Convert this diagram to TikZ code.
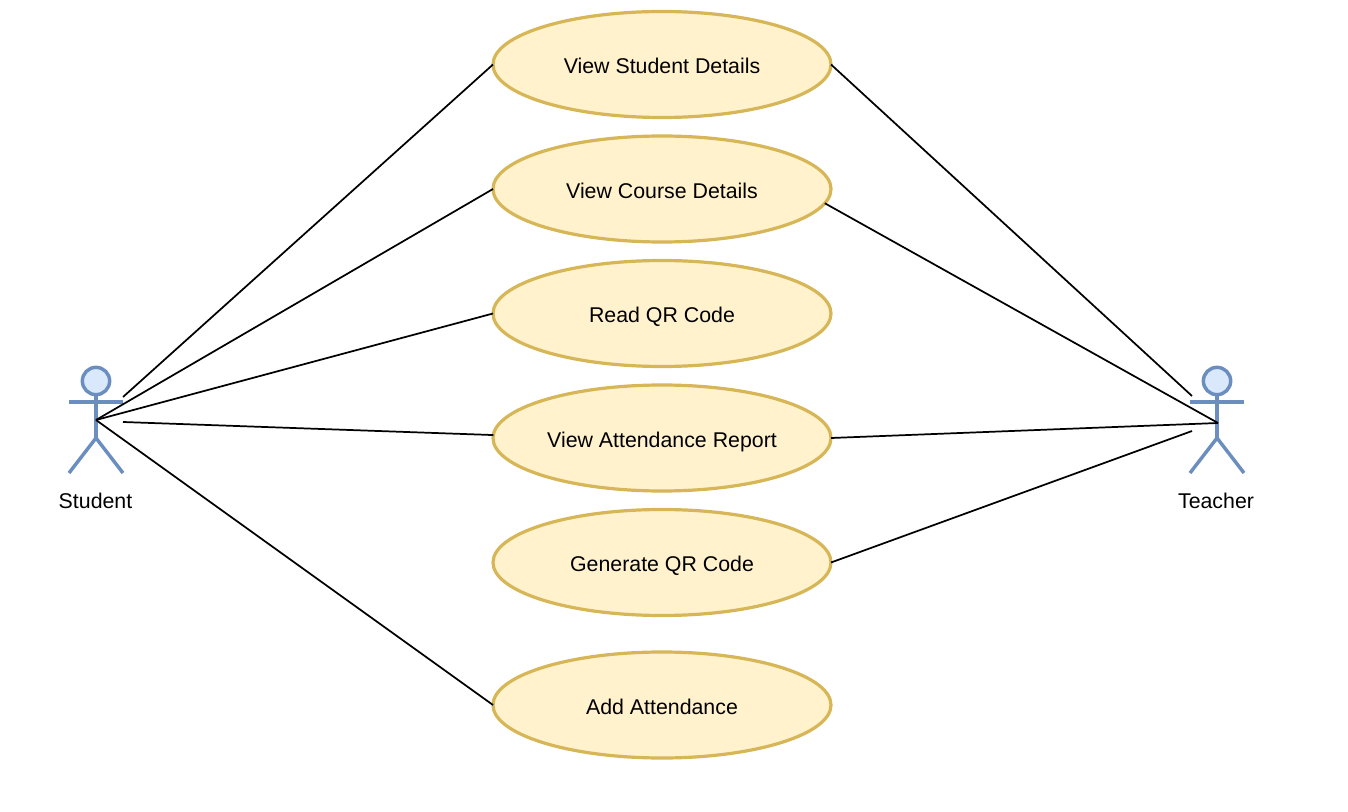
\documentclass[tikz,border=0pt]{standalone}
\usepackage{fontspec}
\setmainfont{Liberation Sans}
\usetikzlibrary{shapes.geometric}
\definecolor{casefill}{HTML}{FFF2CC}
\definecolor{caseline}{HTML}{D6B656}
\definecolor{actorfill}{HTML}{DAE8FC}
\definecolor{actorline}{HTML}{6C8EBF}
\begin{document}
\begin{tikzpicture}[x=0.75pt,y=-0.75pt]
    \tikzstyle{usecase}=[ellipse,draw=caseline,fill=casefill,line width=2.4pt,minimum width=253.5pt,minimum height=79.5pt,inner sep=0pt,outer sep=0pt,font=\fontsize{16}{19}\selectfont,text height=14pt,text depth=0pt]
    \tikzstyle{actorhead}=[circle,draw=actorline,fill=actorfill,line width=2.6pt,minimum size=20.5pt,inner sep=0pt,outer sep=0pt]
    \tikzstyle{limb}=[draw=actorline,line width=2.6pt]
    \tikzstyle{actorlabel}=[font=\fontsize{16}{19}\selectfont]
    \tikzstyle{link}=[draw=black,line width=1.3pt]

    \useasboundingbox (0,0) rectangle (1348,812);

    % use cases
    \node[usecase] (details) at (662, 64.5) {View Student Details};
    \node[usecase] (course)  at (662,189)   {View Course Details};
    \node[usecase] (read)    at (662,313.5) {Read QR Code};
    \node[usecase] (report)  at (662,438)   {View Attendance Report};
    \node[usecase] (make)    at (662,562.5) {Generate QR Code};
    \node[usecase] (add)     at (662,705)   {Add Attendance};

    % student
    \node[actorhead] (shead) at (96,381) {};
    \coordinate (shand) at (69,402);
    \coordinate (sarm)  at (123,402);
    \coordinate (ship)  at (96,438);
    \coordinate (sfoot) at (69,473);
    \coordinate (stoe)  at (123,473);
    \coordinate (smid)  at (96,420);
    \coordinate (supper) at (123,397);
    \coordinate (slower) at (123,422);
    \draw[limb] (shead) -- (ship);
    \draw[limb] (shand) -- (sarm);
    \draw[limb] (sfoot) -- (ship) -- (stoe);
    \node[actorlabel] (student) at (95.5,501) {Student};

    % teacher
    \node[actorhead] (thead) at (1217,381) {};
    \coordinate (thand) at (1190,402);
    \coordinate (tarm)  at (1244,402);
    \coordinate (thip)  at (1217,438);
    \coordinate (tfoot) at (1190,473);
    \coordinate (ttoe)  at (1244,473);
    \coordinate (tmid)  at (1218,423);
    \coordinate (tupper) at (1192,396);
    \coordinate (tlower) at (1192,431);
    \draw[limb] (thead) -- (thip);
    \draw[limb] (thand) -- (tarm);
    \draw[limb] (tfoot) -- (thip) -- (ttoe);
    \node[actorlabel] (teacher) at (1216,501) {Teacher};

    \draw[link] (supper) -- (details.west);
    \draw[link] (smid) -- (course.west);
    \draw[link] (smid) -- (read.west);
    \draw[link] (slower) -- (report.179);
    \draw[link] (smid) -- (add.west);

    \draw[link] (details.east) -- (tupper);
    \draw[link] (course.355) -- (tmid);
    \draw[link] (report.east) -- (tmid);
    \draw[link] (make.east) -- (tlower);
\end{tikzpicture}
\end{document}
